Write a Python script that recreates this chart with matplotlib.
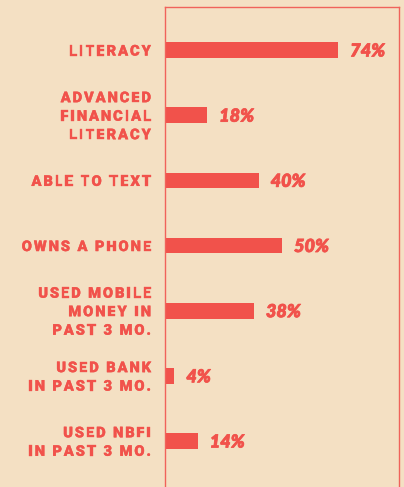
import matplotlib
matplotlib.use("Agg")
import matplotlib.pyplot as plt
import matplotlib.patheffects as pe
from matplotlib import transforms
from matplotlib.font_manager import FontProperties

categories = [
    "LITERACY",
    "ADVANCED\nFINANCIAL\nLITERACY",
    "ABLE TO TEXT",
    "OWNS A PHONE",
    "USED MOBILE\nMONEY IN\nPAST 3 MO.",
    "USED BANK\nIN PAST 3 MO.",
    "USED NBFI\nIN PAST 3 MO.",
]
values = [74, 18, 40, 50, 38, 4, 14]

BG = "#F4E0C3"
RED = "#F1524B"
EDGE = "#F0635B"

fig = plt.figure(figsize=(4.04, 4.87), dpi=100, facecolor=BG)
ax = fig.add_axes([165 / 404, 0, 234 / 404, 1 - 7 / 487])
ax.set_facecolor(BG)

ypos = list(range(len(values)))
ax.barh(ypos, values, height=0.24, color=RED, zorder=2)
ax.set_xlim(0, 100)
ax.set_ylim(6.705, -0.66)

for side in ["left", "right", "top"]:
    ax.spines[side].set_color(EDGE)
    ax.spines[side].set_linewidth(1.0)
ax.spines["bottom"].set_visible(False)
ax.set_xticks([])
ax.set_yticks([])

fig.canvas.draw()
renderer = fig.canvas.get_renderer()

label_font = FontProperties(family="Roboto", weight="black", size=10.6)
value_font = FontProperties(family="Lato", weight="heavy", style="italic", size=13)
label_fx = [pe.withStroke(linewidth=0.25, foreground=RED)]
value_fx = [pe.withStroke(linewidth=0.5, foreground=RED)]


def advance(ch, prop):
    # width of a glyph measured against a reference letter so spaces count
    w_ref = renderer.get_text_width_height_descent("H", prop, ismath=False)[0]
    w_pair = renderer.get_text_width_height_descent(ch + "H", prop, ismath=False)[0]
    return w_pair - w_ref


def tracked_text(y, text, prop, tracking, right_px, line_h):
    lines = text.split("\n")
    n = len(lines)
    base = ax.get_yaxis_transform()
    for i, line in enumerate(lines):
        widths = [advance(c, prop) for c in line]
        total = sum(widths) + tracking * (len(line) - 1)
        x = -right_px - total
        dy = ((n - 1) / 2 - i) * line_h - 1.5
        for c, w in zip(line, widths):
            tr = transforms.offset_copy(base, fig=fig, x=x, y=dy, units="dots")
            ax.text(0, y, c, transform=tr, fontproperties=prop, color=RED,
                    ha="left", va="center", clip_on=False, path_effects=label_fx)
            x += w + tracking


for y, label in zip(ypos, categories):
    tracked_text(y, label, label_font, 1.9, 14, 18.5)

for y, v in zip(ypos, values):
    tr = transforms.offset_copy(ax.transData, fig=fig, x=12, y=-1, units="dots")
    ax.text(v, y, f"{v}%", transform=tr, fontproperties=value_font, color=RED,
            ha="left", va="center", clip_on=False, path_effects=value_fx)

fig.savefig("out.png", dpi=100, facecolor=BG)
